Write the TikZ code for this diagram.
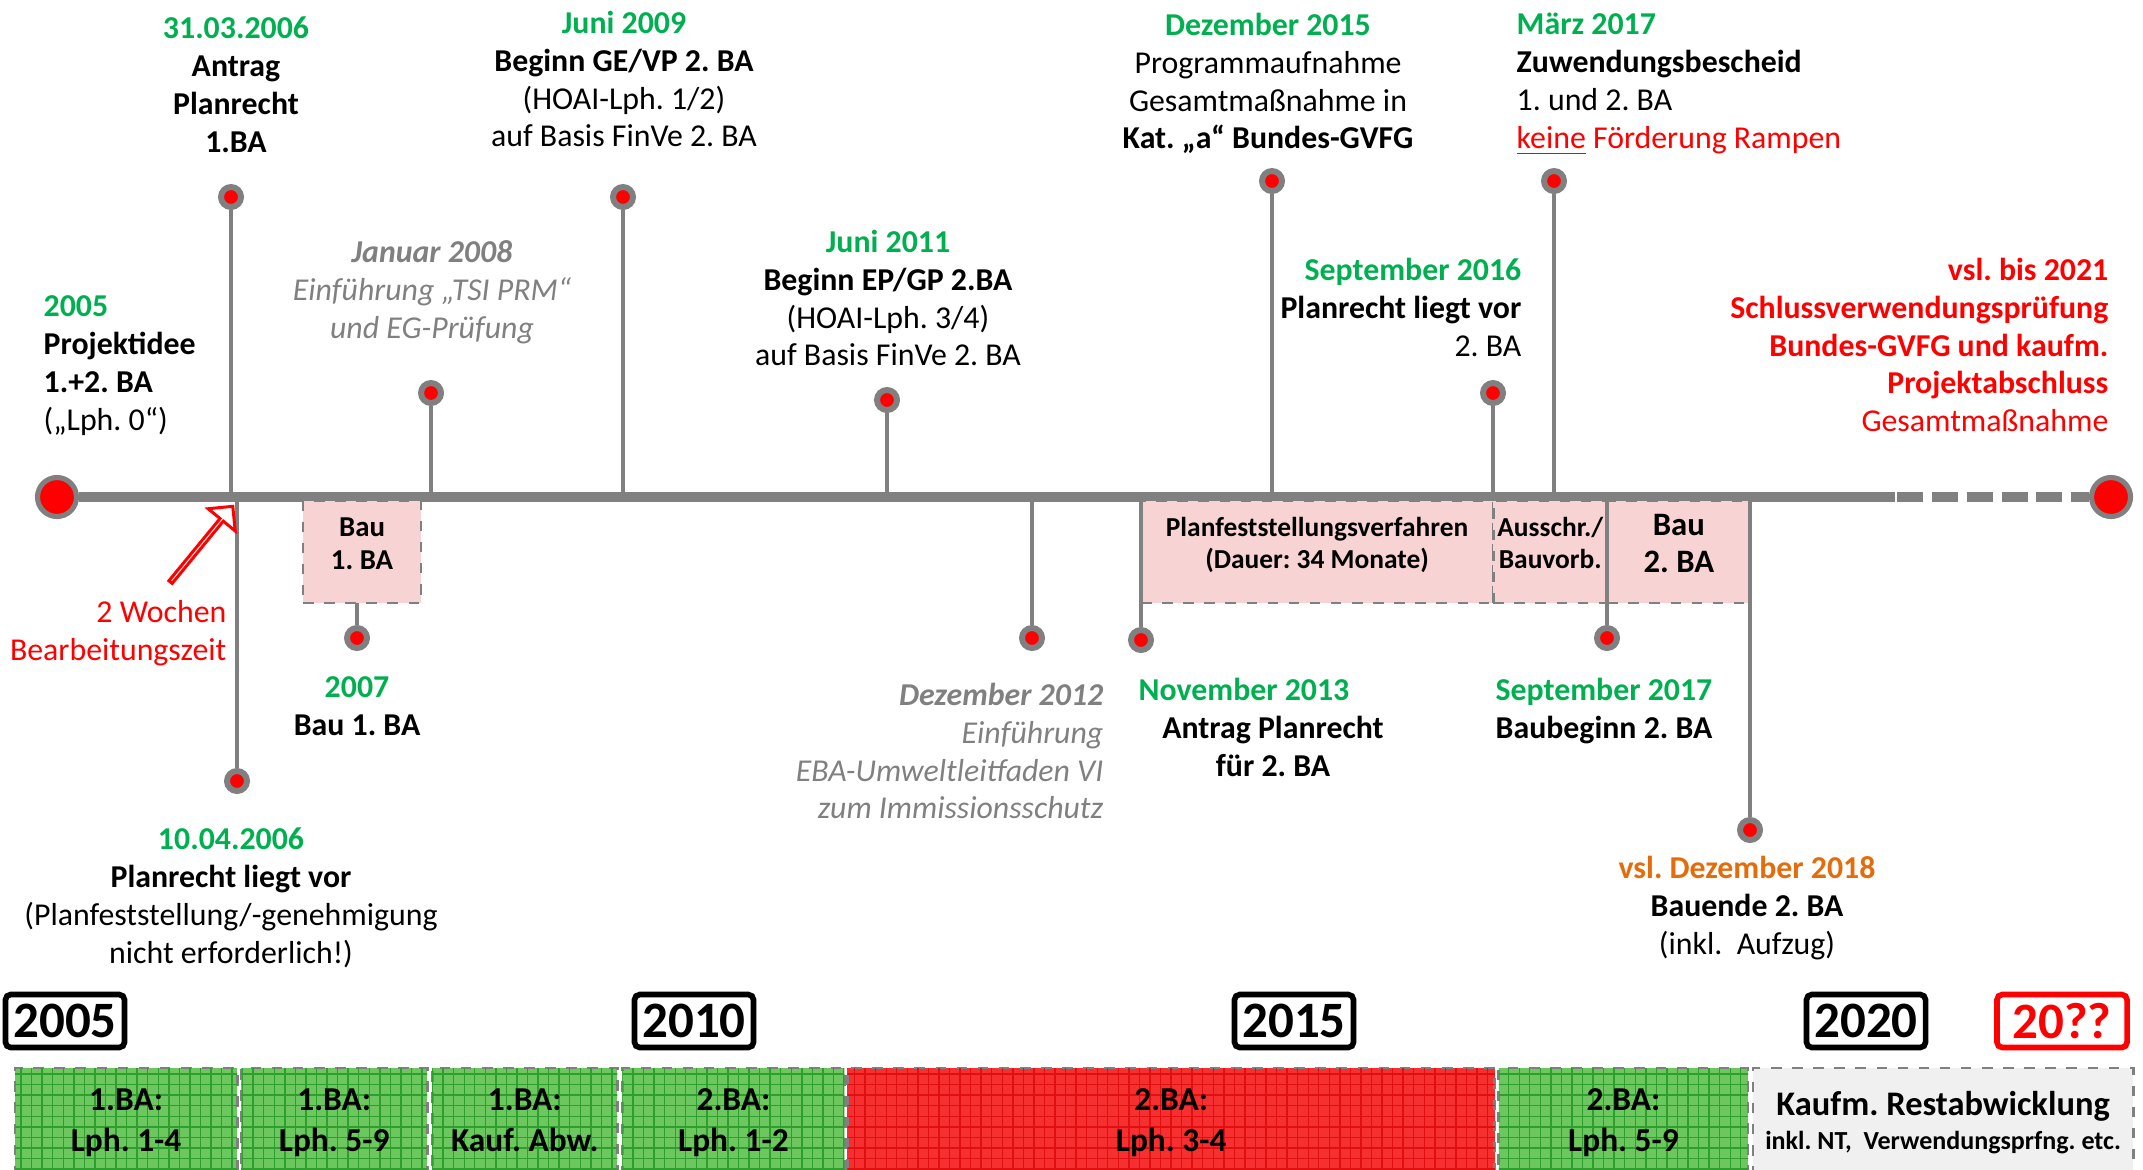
\documentclass[tikz,border=0pt]{standalone}
\usepackage{fontspec}
\setmainfont{Carlito}
\usetikzlibrary{positioning, shapes.arrows, patterns}

\definecolor{tlgrey}{HTML}{808080}
\definecolor{dategreen}{HTML}{00B050}
\definecolor{dateorange}{HTML}{E46C0A}
\definecolor{workpink}{HTML}{F8D3D3}
\definecolor{phasegreen}{HTML}{6CC85E}
\definecolor{gridgreen}{HTML}{2E9E2E}
\definecolor{phasered}{HTML}{F63030}
\definecolor{gridred}{HTML}{E01010}
\definecolor{restgrey}{HTML}{F0F0F0}
\newcommand{\datum}[1]{\textcolor{dategreen}{\textbf{#1}}}
\frenchspacing

\begin{document}
\begin{tikzpicture}[x=0.01cm, y=-0.01cm,
    event/.style={inner sep=0pt, align=center, anchor=north, font=\fontsize{9.05}{10.8}\selectfont},
    note/.style={event, text=tlgrey, font=\fontsize{9.05}{10.8}\selectfont\itshape},
    knob/.style={circle, fill=red, draw=tlgrey, line width=1.7pt, minimum size=0.2cm, inner sep=0pt},
    endknob/.style={knob, minimum size=0.39cm, line width=1.45pt},
    axis/.style={tlgrey, line width=2.6pt},
    stem/.style={tlgrey, line width=1.4pt},
    work/.style={rectangle, draw=tlgrey, dashed, line width=0.8pt, fill=workpink, inner sep=0pt, outer sep=0pt,
        minimum height=1.02cm, text depth=5pt, anchor=north west, align=center, font=\bfseries\fontsize{7.8}{9.1}\selectfont},
    phase/.style={rectangle, draw=tlgrey, dashed, line width=0.8pt, inner sep=0pt, outer sep=0pt, anchor=north west,
        align=center, minimum height=1.12cm, text depth=2.2pt, font=\bfseries\fontsize{9.5}{11.7}\selectfont},
    donephase/.style={phase, fill=phasegreen, postaction={pattern=grid, pattern color=gridgreen}},
    latephase/.style={phase, fill=phasered, postaction={pattern=grid, pattern color=gridred}},
    year/.style={rectangle, draw, line width=1.6pt, rounded corners=1.5pt, minimum width=1.19cm,
        minimum height=0.53cm, inner sep=0pt, font=\bfseries\fontsize{14.5}{16}\selectfont}]

\useasboundingbox (0,0) rectangle (2143,1169);

\node[endknob] (start) at (57,497) {};
\node[endknob] (ende) at (2111,497) {};
\coordinate (offen) at (1895,497);
\draw[axis] (start) -- (offen);
\draw[axis, dash pattern=on 7.4pt off 2.5pt, dash phase=9.3pt] (offen) -- (ende);

\node[work, minimum width=1.18cm, font=\bfseries\fontsize{8.2}{9.4}\selectfont] (bau1) at (303,501) {Bau\\1. BA};
\node[work, minimum width=3.52cm] (pfv) at (1141,501) {Planfeststellungsverfahren\\(Dauer: 34 Monate)};
\node[work, minimum width=1.14cm, right=0pt of pfv] (vorb) {Ausschr./\\Bauvorb.};
\node[work, minimum width=1.43cm, right=0pt of vorb, font=\bfseries\fontsize{9.3}{10.6}\selectfont] (bau2) {Bau\\2. BA};

\node[knob] (p1) at (231,197) {};
\node[knob] (p2) at (431,393) {};
\node[knob] (p3) at (623,197) {};
\node[knob] (p4) at (887,400) {};
\node[knob] (p5) at (1272,181) {};
\node[knob] (p6) at (1493,393) {};
\node[knob] (p7) at (1554,181) {};
\node[knob] (q1) at (237,781) {};
\node[knob] (q2) at (357,638) {};
\node[knob] (q3) at (1032,638) {};
\node[knob] (q4) at (1141,640) {};
\node[knob] (q5) at (1607,638) {};
\node[knob] (q6) at (1750,830) {};

\foreach \p in {p1,p2,p3,p4,p5,p6,p7,q1,q3,q4,q5,q6}
    \draw[stem] (\p) -- (\p |- start);
\draw[stem] (q2) -- (q2 |- bau1.south);

\node[event] (t1) at (236,16) {\datum{31.03.2006}\\\textbf{Antrag}\\\textbf{Planrecht}\\\textbf{1.BA}};
\node[note] (t2) at (432,240) {\textbf{Januar 2008}\\Einführung „TSI PRM“\\und EG-Prüfung};
\node[event] (t3) at (624,10) {\datum{Juni 2009}\\\textbf{Beginn GE/VP 2. BA}\\(HOAI-Lph. 1/2)\\auf Basis FinVe 2. BA};
\node[event, anchor=north west, align=left] (t4) at (43,295) {\datum{2005}\\\textbf{Projektidee}\\\textbf{1.+2. BA}\\(„Lph. 0“)};
\node[event] (t5) at (888,229) {\datum{Juni 2011}\\\textbf{Beginn EP/GP 2.BA}\\(HOAI-Lph. 3/4)\\auf Basis FinVe 2. BA};
\node[event] (t6) at (1268,12) {\datum{Dezember 2015}\\Programmaufnahme\\Gesamtmaßnahme in\\\textbf{Kat. „a“ Bundes-GVFG}};
\node[event, anchor=north east, align=right] (t7) at (1522,257) {\datum{September 2016}\\\textbf{Planrecht liegt vor}\\2. BA};
\node[event, anchor=north west, align=left] (t8) at (1516,12) {\datum{März 2017}\\\textbf{Zuwendungsbescheid}\\1. und 2. BA\\\textcolor{red}{\underline{keine} Förderung Rampen}};
\node[event, anchor=north east, align=right, text=red] (t9) at (2109,257) {\textbf{vsl. bis 2021}\\\textbf{Schlussverwendungsprüfung}\\\textbf{Bundes-GVFG und kaufm.}\\\textbf{Projektabschluss}\\Gesamtmaßnahme};
\node[event, anchor=north east, align=right, text=red] (t10) at (227,600) {2 Wochen\\Bearbeitungszeit};
\node[single arrow, draw=red, fill=white, line width=0.85pt, inner sep=0pt, minimum width=0.35cm,
    single arrow head extend=0.11cm, minimum height=0.98cm, rotate=50.6] (hinweis) at (201,545) {};
\node[event] (t11) at (231,827) {\datum{10.04.2006}\\\textbf{Planrecht liegt vor}\\(Planfeststellung/-genehmigung\\nicht erforderlich!)};
\node[event] (t12) at (357,676) {\datum{2007}\\\textbf{Bau 1. BA}};
\node[note, anchor=north east, align=right] (t13) at (1104,682) {\textbf{Dezember 2012}\\Einführung\\EBA-Umweltleitfaden VI\\zum Immissionsschutz};
\node[event] (t14) at (1273,677) {\datum{November 2013}\hspace*{16.5pt}\\\textbf{Antrag Planrecht}\\\textbf{für 2. BA}};
\node[event] (t15) at (1604,677) {\datum{September 2017}\\\textbf{Baubeginn 2. BA}};
\node[event] (t16) at (1747,855) {\textcolor{dateorange}{\textbf{vsl. Dezember 2018}}\\\textbf{Bauende 2. BA}\\(inkl.\ \ Aufzug)};

\node[year] (y2005) at (65,1021) {2005};
\node[year] (y2010) at (694,1021) {2010};
\node[year] (y2015) at (1294,1021) {2015};
\node[year] (y2020) at (1866,1021) {2020};
\node[year, draw=red, text=red, minimum width=1.30cm] (yoffen) at (2062,1021) {20??};

\node[donephase, minimum width=2.22cm] (ph1) at (15,1068) {1.BA:\\Lph. 1-4};
\node[donephase, minimum width=1.86cm, right=0.04cm of ph1] (ph2) {1.BA:\\Lph. 5-9};
\node[donephase, minimum width=1.85cm, right=0.05cm of ph2] (ph3) {1.BA:\\Kauf. Abw.};
\node[donephase, minimum width=2.22cm, right=0.05cm of ph3] (ph4) {2.BA:\\Lph. 1-2};
\node[latephase, minimum width=6.47cm, right=0.03cm of ph4] (ph5) {2.BA:\\Lph. 3-4};
\node[donephase, minimum width=2.49cm, right=0.04cm of ph5] (ph6) {2.BA:\\Lph. 5-9};
\node[phase, fill=restgrey, minimum width=3.80cm, right=0.05cm of ph6] (ph7) {{\fontsize{9.8}{11.7}\selectfont Kaufm. Restabwicklung}\\[-2pt]{\fontsize{7.4}{8}\selectfont inkl. NT,\ \ Verwendungsprfng. etc.}};
\end{tikzpicture}
\end{document}
